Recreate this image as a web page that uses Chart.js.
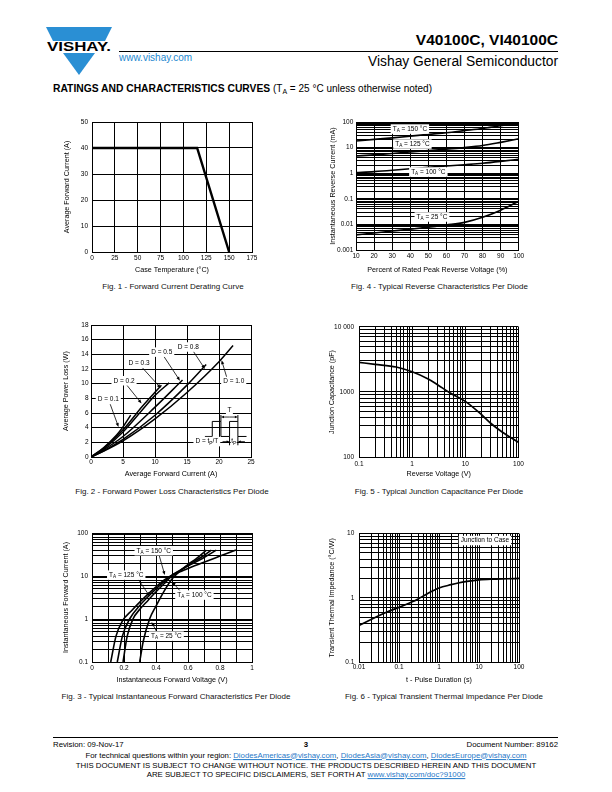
<!DOCTYPE html>
<html>
<head>
<meta charset="utf-8">
<title>V40100C, VI40100C - Ratings and Characteristics Curves</title>
<script src="https://cdn.jsdelivr.net/npm/chart.js"></script>
<style>
  html, body { margin: 0; padding: 0; }
  body { width: 612px; height: 792px; position: relative; overflow: hidden; background: #fff;
         font-family: "Liberation Sans", Arial, Helvetica, sans-serif; color: #000; }
  .t { position: absolute; white-space: nowrap; line-height: 1; transform: translateY(-50%); }
  .c { transform: translate(-50%, -50%); }
  .rule { position: absolute; height: 1px; background: #000; }
  sub { font-size: 0.7em; vertical-align: -0.25em; line-height: 0; }
  a { color: #1f78c8; text-decoration: underline; }
  canvas { position: absolute; }
  .cap { font-size: 8px; color: #111; }
  .foot { font-size: 7.8px; }
</style>
</head>
<body>

<!-- header -->
<svg style="position:absolute;left:46px;top:27px" width="68" height="49">
  <polygon points="0,0 66,0 59,14 7,14" fill="#2a8fd4"/>
  <polygon points="17,26 49,26 33,48" fill="#2a8fd4"/>
  <text x="33" y="24" text-anchor="middle" font-family="Liberation Sans, Arial" font-weight="bold"
        font-size="13" textLength="64" lengthAdjust="spacingAndGlyphs">VISHAY.</text>
</svg>
<div class="t" style="right:54px;top:40px;font-weight:bold;font-size:15.5px">V40100C, VI40100C</div>
<div class="rule" style="left:119px;top:51px;width:439px"></div>
<div class="t" style="left:119px;top:58px;font-size:10px;color:#1e88d0">www.vishay.com</div>
<div class="t" style="right:54px;top:61.5px;font-size:13.8px">Vishay General Semiconductor</div>
<div class="t" style="left:53px;top:89px;font-size:10px"><b style="font-size:10.3px">RATINGS AND CHARACTERISTICS CURVES</b> (T<sub>A</sub> = 25 °C unless otherwise noted)</div>

<!-- charts -->
<canvas id="fig1"></canvas>
<canvas id="fig4"></canvas>
<canvas id="fig2"></canvas>
<canvas id="fig5"></canvas>
<canvas id="fig3"></canvas>
<canvas id="fig6"></canvas>

<div class="t c cap" style="left:173px;top:287px">Fig. 1 - Forward Current Derating Curve</div>
<div class="t c cap" style="left:439.5px;top:287px">Fig. 4 - Typical Reverse Characteristics Per Diode</div>
<div class="t c cap" style="left:172px;top:492px">Fig. 2 - Forward Power Loss Characteristics Per Diode</div>
<div class="t c cap" style="left:439px;top:492px">Fig. 5 - Typical Junction Capacitance Per Diode</div>
<div class="t c cap" style="left:176px;top:697px">Fig. 3 - Typical Instantaneous Forward Characteristics Per Diode</div>
<div class="t c cap" style="left:444px;top:697px">Fig. 6 - Typical Transient Thermal Impedance Per Diode</div>

<!-- footer -->
<div class="rule" style="left:53px;top:737px;width:505px"></div>
<div class="t foot" style="left:53px;top:744.5px">Revision: 09-Nov-17</div>
<div class="t c foot" style="left:306px;top:745px;font-weight:bold">3</div>
<div class="t foot" style="right:54px;top:744.5px">Document Number: 89162</div>
<div class="t c foot" style="left:306px;top:755.5px">For technical questions within your region: <a>DiodesAmericas@vishay.com</a>, <a>DiodesAsia@vishay.com</a>, <a>DiodesEurope@vishay.com</a></div>
<div class="t c foot" style="left:306px;top:765.5px">THIS DOCUMENT IS SUBJECT TO CHANGE WITHOUT NOTICE. THE PRODUCTS DESCRIBED HEREIN AND THIS DOCUMENT</div>
<div class="t c foot" style="left:306px;top:775px">ARE SUBJECT TO SPECIFIC DISCLAIMERS, SET FORTH AT <a>www.vishay.com/doc?91000</a></div>

<script>
// ---- Fig. 1 - forward current derating
const fig1Temp = [0, 115, 150];
const fig1Current = [40, 40, 0];
const fig1XTicks = [0, 25, 50, 75, 100, 125, 150, 175];
const fig1YTicks = [0, 10, 20, 30, 40, 50];

// ---- Fig. 2 - power loss, one row per duty cycle
const fig2Duty = ['D = 0.1', 'D = 0.2', 'D = 0.3', 'D = 0.5', 'D = 0.8', 'D = 1.0'];
const fig2Current = [
  [0, 2, 4, 5, 6.2],
  [0, 2, 5, 8, 11],
  [0, 2, 5, 8, 10, 12.2],
  [0, 2, 5, 10, 14.3],
  [0, 2, 5, 10, 15, 18],
  [0, 2, 5, 10, 15, 20, 22.2]
];
const fig2Loss = [
  [0, 1.3, 3.0, 4.1, 5.7],
  [0, 1.2, 3.7, 6.9, 9.8],
  [0, 1.1, 3.4, 6.4, 8.4, 10.1],
  [0, 1.0, 2.8, 6.8, 10.5],
  [0, 0.85, 2.4, 5.7, 9.8, 12.6],
  [0, 0.8, 2.2, 5.2, 8.8, 13.0, 15.2]
];
const fig2XTicks = [0, 5, 10, 15, 20, 25];
const fig2YTicks = [0, 2, 4, 6, 8, 10, 12, 14, 16, 18];

// ---- Fig. 3 - instantaneous forward characteristics
const fig3Temps = ['T_A = 150 °C', 'T_A = 125 °C', 'T_A = 100 °C', 'T_A = 25 °C'];
const fig3Voltage = [
  [0.117, 0.15, 0.19, 0.25, 0.3, 0.35, 0.4, 0.45, 0.5, 0.55, 0.6, 0.7, 0.8, 0.9],
  [0.158, 0.19, 0.235, 0.3, 0.35, 0.4, 0.45, 0.5, 0.55, 0.6, 0.7, 0.777],
  [0.194, 0.22, 0.256, 0.3, 0.35, 0.4, 0.45, 0.5, 0.55, 0.6, 0.7, 0.746],
  [0.298, 0.32, 0.36, 0.4, 0.45, 0.5, 0.55, 0.6, 0.65, 0.715]
];
const fig3Current = [
  [0.1, 0.4, 0.9, 1.6, 2.5, 3.8, 5.6, 8, 10.5, 12.5, 15, 21, 29, 40],
  [0.1, 0.4, 1, 2.1, 3.3, 5, 7.4, 10.5, 13.5, 17, 27, 40],
  [0.1, 0.4, 1, 1.7, 2.7, 4.3, 6.6, 10, 13.5, 18, 30, 40],
  [0.1, 0.3, 1, 2, 4.4, 8.5, 13, 18.5, 25, 40]
];
const fig3XTicks = [0, 0.2, 0.4, 0.6, 0.8, 1];
const fig3XTickText = ['0', '0.2', '0.4', '0.6', '0.8', '1'];
const fig3YTicks = [0.1, 1, 10, 100];

// ---- Fig. 4 - reverse characteristics
const fig4Percent = [10, 20, 30, 40, 50, 60, 70, 80, 90, 100];
const fig4Temps = ['T_A = 150 °C', 'T_A = 125 °C', 'T_A = 100 °C', 'T_A = 25 °C'];
const fig4Current = [
  [18, 21, 24, 28, 33, 38, 46, 56, 72, 95],
  [4.7, 5.2, 5.9, 6.7, 7.6, 8.7, 10, 12, 16, 22],
  [1.05, 1.15, 1.3, 1.5, 1.7, 1.9, 2.15, 2.45, 2.9, 3.5],
  [0.0039, 0.0046, 0.0055, 0.0065, 0.0078, 0.0095, 0.012, 0.019, 0.036, 0.08]
];
const fig4XTicks = [10, 20, 30, 40, 50, 60, 70, 80, 90, 100];
const fig4YTicks = [0.001, 0.01, 0.1, 1, 10, 100];

// ---- Fig. 5 - junction capacitance
const fig5Voltage = [0.1, 0.2, 0.5, 1, 2, 3, 5, 10, 20, 30, 50, 100];
const fig5Cap = [2850, 2660, 2420, 2040, 1580, 1290, 980, 716, 450, 330, 240, 168];
const fig5XTicks = [0.1, 1, 10, 100];
const fig5YTicks = [100, 1000, 10000];
const fig5YTickText = ['100', '1000', '10 000'];

// ---- Fig. 6 - transient thermal impedance
const fig6Time = [0.01, 0.02, 0.03, 0.05, 0.1, 0.2, 0.3, 0.5, 1, 2, 3, 5, 10, 20, 50, 100];
const fig6Z = [0.37, 0.46, 0.52, 0.6, 0.71, 0.85, 0.96, 1.15, 1.42, 1.6, 1.7, 1.8, 1.9, 1.95, 1.98, 2.0];
const fig6XTicks = [0.01, 0.1, 1, 10, 100];
const fig6YTicks = [0.1, 1, 10];

// ------------------------------------------------------------------
const FONT = '"Liberation Sans", Arial, Helvetica, sans-serif';
const TICK_SIZE = 6.5, TITLE_SIZE = 7.2, NOTE_SIZE = 6.5;

function near(a, b) { return Math.abs(a - b) <= Math.abs(b) * 1e-6 + 1e-12; }

function logGrid(min, max) {
  const out = [];
  for (let e = Math.round(Math.log10(min)); e <= Math.round(Math.log10(max)); e++) {
    for (let m = 1; m <= 9; m++) {
      const v = parseFloat((m * Math.pow(10, e)).toPrecision(6));
      if (v >= min * 0.999999 && v <= max * 1.000001) out.push(v);
    }
  }
  return out;
}
function linGrid(min, max, step) {
  const out = [];
  for (let i = 0; min + i * step <= max + step * 1e-6; i++) out.push(parseFloat((min + i * step).toPrecision(8)));
  return out;
}

// text with "_X" subscripts
function richParts(str) {
  const parts = []; let buf = '';
  for (let i = 0; i < str.length; i++) {
    if (str[i] === '_' && i + 1 < str.length) {
      if (buf) parts.push({ t: buf });
      parts.push({ t: str[i + 1], sub: true });
      buf = ''; i++;
    } else buf += str[i];
  }
  if (buf) parts.push({ t: buf });
  return parts;
}
function drawRich(ctx, str, cx, cy, size, pad) {
  const parts = richParts(str);
  const norm = size + 'px ' + FONT, small = (size * 0.72).toFixed(2) + 'px ' + FONT;
  let w = 0;
  parts.forEach(p => { ctx.font = p.sub ? small : norm; p.w = ctx.measureText(p.t).width; w += p.w; });
  if (pad != null) {
    ctx.fillStyle = '#fff';
    ctx.fillRect(cx - w / 2 - pad, cy - size / 2 - 1.5, w + pad * 2, size + 3);
  }
  ctx.fillStyle = '#000'; ctx.textBaseline = 'middle'; ctx.textAlign = 'left';
  let x = cx - w / 2;
  parts.forEach(p => { ctx.font = p.sub ? small : norm; ctx.fillText(p.t, x, p.sub ? cy + size * 0.3 : cy); x += p.w; });
}
function drawArrow(ctx, x0, y0, x1, y1, head) {
  head = head || 4;
  const a = Math.atan2(y1 - y0, x1 - x0), c = Math.cos(a), s = Math.sin(a);
  ctx.strokeStyle = '#000'; ctx.lineWidth = 0.8;
  ctx.beginPath(); ctx.moveTo(x0, y0); ctx.lineTo(x1 - c * head * 0.8, y1 - s * head * 0.8); ctx.stroke();
  ctx.fillStyle = '#000';
  ctx.beginPath();
  ctx.moveTo(x1, y1);
  ctx.lineTo(x1 - head * c + head * 0.4 * s, y1 - head * s - head * 0.4 * c);
  ctx.lineTo(x1 - head * c - head * 0.4 * s, y1 - head * s + head * 0.4 * c);
  ctx.closePath(); ctx.fill();
}

// labels and arrows placed in data units through the chart's own scales
function notesPlugin(items, inset) {
  return {
    id: 'notes',
    afterDatasetsDraw(chart) {
      const ctx = chart.ctx;
      const X = v => chart.scales.x.getPixelForValue(v);
      const Y = v => chart.scales.y.getPixelForValue(v);
      ctx.save();
      items.forEach(n => { if (n.arrow) drawArrow(ctx, X(n.arrow[0]), Y(n.arrow[1]), X(n.arrow[2]), Y(n.arrow[3])); });
      items.forEach(n => drawRich(ctx, n.text, X(n.x), Y(n.y), NOTE_SIZE, 2));
      if (inset) inset(ctx, X, Y);
      ctx.restore();
    }
  };
}

// duty cycle sketch in Fig. 2
function dutyInset(ctx, X, Y) {
  const lo = Y(2.8), hi = Y(4.85), barY = Y(5.45), lowBar = Y(1.6);
  const e = [17.8, 18.95, 20.3, 21.65, 22.95, 24.3].map(X);
  ctx.strokeStyle = '#000'; ctx.lineWidth = 1;
  ctx.beginPath();
  ctx.moveTo(e[0], lo); ctx.lineTo(e[1], lo); ctx.lineTo(e[1], hi); ctx.lineTo(e[2], hi); ctx.lineTo(e[2], lo);
  ctx.lineTo(e[3], lo); ctx.lineTo(e[3], hi); ctx.lineTo(e[4], hi); ctx.lineTo(e[4], lo); ctx.lineTo(e[5], lo);
  ctx.moveTo(e[2], hi); ctx.lineTo(e[2], barY - 2);
  ctx.moveTo(e[4], hi); ctx.lineTo(e[4], barY - 2);
  ctx.moveTo(e[3], lo); ctx.lineTo(e[3], lowBar);
  ctx.moveTo(e[4], lo); ctx.lineTo(e[4], lowBar);
  ctx.stroke();
  const mid = (e[2] + e[4]) / 2;
  drawArrow(ctx, mid, barY, e[2], barY, 3);
  drawArrow(ctx, mid, barY, e[4], barY, 3);
  drawRich(ctx, 'T', mid, Y(6.4), NOTE_SIZE, 1.5);
  const ty = Y(2.1);
  drawArrow(ctx, e[3] - 7, ty, e[3], ty, 3);
  drawArrow(ctx, e[4] + 7, ty, e[4], ty, 3);
  drawRich(ctx, 't_P', (e[3] + e[4]) / 2, ty, NOTE_SIZE, 0.5);
  drawRich(ctx, 'D = t_P/T', X(18.1), ty, NOTE_SIZE, 2);
}

function axis(o) {
  return {
    type: o.type, min: o.min, max: o.max,
    afterBuildTicks: s => { s.ticks = o.grid.map(v => ({ value: v })); },
    afterFit: s => { if (o.width != null) s.width = o.width; if (o.height != null) s.height = o.height; },
    grid: { color: '#000', lineWidth: 1, drawTicks: false },
    border: { color: '#000', width: 1 },
    ticks: {
      autoSkip: false, maxRotation: 0, padding: o.pad, color: '#000',
      font: { family: FONT, size: TICK_SIZE },
      callback: v => {
        const i = o.labels.findIndex(t => near(v, t));
        return i < 0 ? '' : (o.text ? o.text[i] : String(o.labels[i]));
      }
    },
    title: { display: true, text: o.title, color: '#000', font: { family: FONT, size: TITLE_SIZE }, padding: 0 }
  };
}

function curve(xs, ys, w) {
  return {
    data: xs.map((x, i) => ({ x, y: ys[i] })),
    showLine: true, borderColor: '#000', borderWidth: w || 1.5, pointRadius: 0,
    tension: 0.4, cubicInterpolationMode: 'monotone', fill: false
  };
}

function makeChart(id, lay, xo, yo, datasets, plugins) {
  const [pl, pt, pr, pb] = lay.plot;
  const half = TITLE_SIZE * 1.2 / 2;
  const cl = Math.round(lay.yTitleX - half), cb = Math.round(lay.xTitleY + half);
  const ct = pt - 8, cr = pr + 8;
  const cv = document.getElementById(id);
  cv.width = cr - cl; cv.height = cb - ct;
  cv.style.left = cl + 'px'; cv.style.top = ct + 'px';
  xo.height = cb - pb; xo.pad = lay.xTickY - pb - TICK_SIZE * 1.2 / 2;
  yo.width = pl - cl; yo.pad = pl - lay.yTickRight;
  return new Chart(cv, {
    type: 'scatter',
    data: { datasets },
    options: {
      responsive: false, animation: false, devicePixelRatio: 1,
      layout: { padding: { top: 8, right: 8, left: 0, bottom: 0 } },
      plugins: { legend: { display: false }, tooltip: { enabled: false } },
      scales: { x: axis(xo), y: axis(yo) }
    },
    plugins: plugins || []
  });
}

// page layout of each plot box (left, top, right, bottom)
const layout = {
  fig1: { plot: [92, 122, 252, 252], yTitleX: 67, xTitleY: 269.3, xTickY: 258.3, yTickRight: 88 },
  fig4: { plot: [356, 122, 519, 250], yTitleX: 333.3, xTitleY: 269.3, xTickY: 256.7, yTickRight: 353.3 },
  fig2: { plot: [91, 325, 251, 457], yTitleX: 66.7, xTitleY: 474, xTickY: 462.7, yTickRight: 88.5 },
  fig5: { plot: [359, 326, 519, 457], yTitleX: 332.7, xTitleY: 474, xTickY: 464, yTickRight: 354 },
  fig3: { plot: [92, 533, 252, 662], yTitleX: 66, xTitleY: 679.3, xTickY: 668, yTickRight: 88 },
  fig6: { plot: [359, 533, 519, 662], yTitleX: 332.7, xTitleY: 679.3, xTickY: 667.3, yTickRight: 354.3 }
};

// Fig. 1
makeChart('fig1', layout.fig1,
  { type: 'linear', min: 0, max: 175, grid: fig1XTicks, labels: fig1XTicks, title: 'Case Temperature (°C)' },
  { type: 'linear', min: 0, max: 50, grid: fig1YTicks, labels: fig1YTicks, title: 'Average Forward Current (A)' },
  [Object.assign(curve(fig1Temp, fig1Current, 2.4), { tension: 0, cubicInterpolationMode: 'default' })]);

// Fig. 4
makeChart('fig4', layout.fig4,
  { type: 'linear', min: 10, max: 100, grid: fig4XTicks, labels: fig4XTicks, title: 'Percent of Rated Peak Reverse Voltage (%)' },
  { type: 'logarithmic', min: 0.001, max: 100, grid: logGrid(0.001, 100), labels: fig4YTicks, title: 'Instantaneous Reverse Current (mA)' },
  fig4Current.map(ys => curve(fig4Percent, ys, 1.6)),
  [notesPlugin([
    { text: fig4Temps[0], x: 39.8, y: 53 },
    { text: fig4Temps[1], x: 41.2, y: 13.8 },
    { text: fig4Temps[2], x: 50, y: 1.11 },
    { text: fig4Temps[3], x: 52, y: 0.0195 }
  ])]);

// Fig. 2
makeChart('fig2', layout.fig2,
  { type: 'linear', min: 0, max: 25, grid: fig2XTicks, labels: fig2XTicks, title: 'Average Forward Current (A)' },
  { type: 'linear', min: 0, max: 18, grid: fig2YTicks, labels: fig2YTicks, title: 'Average Power Loss (W)' },
  fig2Current.map((xs, i) => curve(xs, fig2Loss[i], 1.5)),
  [notesPlugin([
    { text: fig2Duty[0], x: 2.7, y: 7.87, arrow: [3.0, 7.2, 4.3, 4.1] },
    { text: fig2Duty[1], x: 5.16, y: 10.4, arrow: [5.6, 9.8, 7.9, 7.3] },
    { text: fig2Duty[2], x: 7.5, y: 12.8, arrow: [8.0, 12.2, 10.9, 9.4] },
    { text: fig2Duty[3], x: 11.05, y: 14.3, arrow: [11.4, 13.7, 13.9, 10.4] },
    { text: fig2Duty[4], x: 15.2, y: 15.0, arrow: [16.0, 14.4, 17.8, 12.0] },
    { text: fig2Duty[5], x: 22.3, y: 10.3, arrow: [21.2, 10.9, 20.4, 13.2] }
  ], dutyInset)]);

// Fig. 5
makeChart('fig5', layout.fig5,
  { type: 'logarithmic', min: 0.1, max: 100, grid: logGrid(0.1, 100), labels: fig5XTicks, title: 'Reverse Voltage (V)' },
  { type: 'logarithmic', min: 100, max: 10000, grid: logGrid(100, 10000), labels: fig5YTicks, text: fig5YTickText, title: 'Junction Capacitance (pF)' },
  [curve(fig5Voltage, fig5Cap, 1.7)]);

// Fig. 3
makeChart('fig3', layout.fig3,
  { type: 'linear', min: 0, max: 1, grid: linGrid(0, 1, 0.1), labels: fig3XTicks, text: fig3XTickText, title: 'Instantaneous Forward Voltage (V)' },
  { type: 'logarithmic', min: 0.1, max: 100, grid: logGrid(0.1, 100), labels: fig3YTicks, title: 'Instantaneous Forward Current (A)' },
  fig3Voltage.map((xs, i) => curve(xs, fig3Current[i], 1.6)),
  [notesPlugin([
    { text: fig3Temps[0], x: 0.386, y: 38.7, arrow: [0.42, 30, 0.455, 10.5] },
    { text: fig3Temps[1], x: 0.214, y: 10.5, arrow: [0.29, 8.3, 0.36, 3.4] },
    { text: fig3Temps[2], x: 0.64, y: 3.6, arrow: [0.555, 4.3, 0.5, 7.4] },
    { text: fig3Temps[3], x: 0.465, y: 0.4, arrow: [0.405, 0.5, 0.372, 0.85] }
  ])]);

// Fig. 6
makeChart('fig6', layout.fig6,
  { type: 'logarithmic', min: 0.01, max: 100, grid: logGrid(0.01, 100), labels: fig6XTicks, title: 't - Pulse Duration (s)' },
  { type: 'logarithmic', min: 0.1, max: 10, grid: logGrid(0.1, 10), labels: fig6YTicks, title: 'Transient Thermal Impedance (°C/W)' },
  [curve(fig6Time, fig6Z, 1.7)],
  [notesPlugin([{ text: 'Junction to Case', x: 14.1, y: 7.8 }])]);
</script>
</body>
</html>
